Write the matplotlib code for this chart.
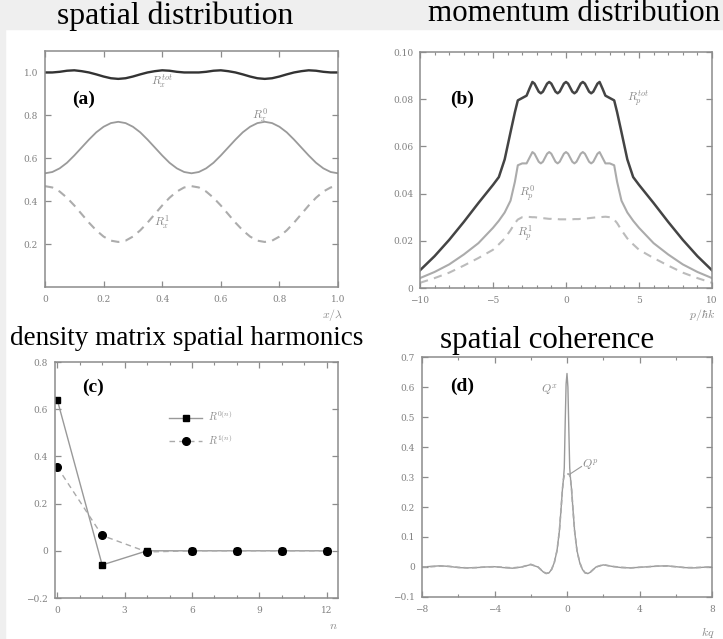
import matplotlib
matplotlib.use("Agg")
import matplotlib.pyplot as plt
from matplotlib.patches import Rectangle
from matplotlib.ticker import MultipleLocator

plt.rcParams["mathtext.fontset"] = "cm"
plt.rcParams["font.family"] = "DejaVu Serif"
plt.rcParams["axes.unicode_minus"] = True

# (a) spatial distribution over one period
x_a = [0.0, 0.025, 0.05, 0.075, 0.1, 0.125, 0.15, 0.175, 0.2, 0.225, 0.25,
       0.275, 0.3, 0.325, 0.35, 0.375, 0.4, 0.425, 0.45, 0.475, 0.5,
       0.525, 0.55, 0.575, 0.6, 0.625, 0.65, 0.675, 0.7, 0.725, 0.75,
       0.775, 0.8, 0.825, 0.85, 0.875, 0.9, 0.925, 0.95, 0.975, 1.0]
Rx_tot = [1.000, 1.000, 1.003, 1.008, 1.010, 1.006, 1.000, 0.991, 0.981, 0.973, 0.970,
          0.973, 0.981, 0.991, 1.000, 1.006, 1.010, 1.008, 1.003, 1.000, 1.000,
          1.000, 1.003, 1.008, 1.010, 1.006, 1.000, 0.991, 0.981, 0.973, 0.970,
          0.973, 0.981, 0.991, 1.000, 1.006, 1.010, 1.008, 1.003, 1.000, 1.000]
Rx_0 = [0.530, 0.536, 0.553, 0.579, 0.613, 0.650, 0.687, 0.721, 0.747, 0.764, 0.770,
        0.764, 0.747, 0.721, 0.687, 0.650, 0.613, 0.579, 0.553, 0.536, 0.530,
        0.536, 0.553, 0.579, 0.613, 0.650, 0.687, 0.721, 0.747, 0.764, 0.770,
        0.764, 0.747, 0.721, 0.687, 0.650, 0.613, 0.579, 0.553, 0.536, 0.530]
Rx_1 = [0.470, 0.464, 0.445, 0.416, 0.380, 0.340, 0.300, 0.264, 0.235, 0.216, 0.210,
        0.216, 0.235, 0.264, 0.300, 0.340, 0.380, 0.416, 0.445, 0.464, 0.470,
        0.464, 0.445, 0.416, 0.380, 0.340, 0.300, 0.264, 0.235, 0.216, 0.210,
        0.216, 0.235, 0.264, 0.300, 0.340, 0.380, 0.416, 0.445, 0.464, 0.470]

# (b) momentum distribution
p_b = [-10, -9, -8, -7, -6, -5, -4.6, -4.2, -3.8, -3.5, -3.3, -3.0, -2.7, -2.5,
       -2.3, -2.156, -2.013, -1.869, -1.725, -1.581, -1.438, -1.294, -1.15,
       -1.006, -0.863, -0.719, -0.575, -0.431, -0.288, -0.144, 0.0,
       0.144, 0.288, 0.431, 0.575, 0.719, 0.863, 1.006, 1.15,
       1.294, 1.438, 1.581, 1.725, 1.869, 2.013, 2.156, 2.3,
       2.5, 2.7, 3.0, 3.3, 3.5, 3.8, 4.2, 4.6, 5, 6, 7, 8, 9, 10]
Rp_tot = [0.0075, 0.0135, 0.0204, 0.0280, 0.0360, 0.0437, 0.0470, 0.0545, 0.0660,
          0.0745, 0.0795, 0.0805, 0.0815, 0.0845,
          0.0873, 0.0866, 0.0849, 0.0832, 0.0825, 0.0832, 0.0849, 0.0866,
          0.0873, 0.0866, 0.0849, 0.0832, 0.0825, 0.0832, 0.0849, 0.0866,
          0.0873, 0.0866, 0.0849, 0.0832, 0.0825, 0.0832, 0.0849, 0.0866,
          0.0873, 0.0866, 0.0849, 0.0832, 0.0825, 0.0832, 0.0849, 0.0866,
          0.0873,
          0.0845, 0.0815, 0.0805, 0.0795, 0.0745, 0.0660, 0.0545, 0.0470,
          0.0437, 0.0360, 0.0280, 0.0204, 0.0135, 0.0075]
Rp_0 = [0.0042, 0.0068, 0.0100, 0.0142, 0.0190, 0.0255, 0.0285, 0.0320, 0.0370,
        0.0450, 0.0520, 0.0528, 0.0528, 0.0552,
        0.0576, 0.0569, 0.0552, 0.0535, 0.0528, 0.0535, 0.0552, 0.0569,
        0.0576, 0.0569, 0.0552, 0.0535, 0.0528, 0.0535, 0.0552, 0.0569,
        0.0576, 0.0569, 0.0552, 0.0535, 0.0528, 0.0535, 0.0552, 0.0569,
        0.0576, 0.0569, 0.0552, 0.0535, 0.0528, 0.0535, 0.0552, 0.0569,
        0.0576,
        0.0552, 0.0528, 0.0528, 0.0520, 0.0450, 0.0370, 0.0320, 0.0285,
        0.0255, 0.0190, 0.0142, 0.0100, 0.0068, 0.0042]
Rp_1 = [0.0022, 0.0042, 0.0065, 0.0095, 0.0127, 0.0162, 0.0185, 0.0210, 0.0245,
        0.0275, 0.0290, 0.0300, 0.0302, 0.0301,
        0.0300, 0.0300, 0.0299, 0.0298, 0.0297, 0.0296, 0.0295, 0.0294,
        0.0293, 0.0293, 0.0292, 0.0292, 0.0292, 0.0291, 0.0291, 0.0291,
        0.0291, 0.0291, 0.0291, 0.0291, 0.0292, 0.0292, 0.0292, 0.0293,
        0.0293, 0.0294, 0.0295, 0.0296, 0.0297, 0.0298, 0.0299, 0.0300,
        0.0300,
        0.0301, 0.0302, 0.0300, 0.0290, 0.0275, 0.0245, 0.0210, 0.0185,
        0.0162, 0.0127, 0.0095, 0.0065, 0.0042, 0.0022]

# (c) density matrix harmonics
n_c = [0, 2, 4, 6, 8, 10, 12]
R0_n = [0.64, -0.06, 0.0, 0.0, 0.0, 0.0, 0.0]
R1_n = [0.355, 0.065, -0.005, 0.0, 0.0, 0.0, 0.0]

# (d) spatial coherence
kq = [-8, -7.5, -7, -6.5, -6, -5.5, -5, -4.5, -4, -3.5, -3, -2.5, -2, -1.6, -1.3,
      -1.15, -1.0, -0.85, -0.7, -0.55, -0.42, -0.32, -0.25, -0.2, -0.15, -0.1,
      -0.05, 0.0, 0.05, 0.1, 0.15, 0.2, 0.25, 0.32, 0.42, 0.55, 0.7, 0.85, 1.0,
      1.15, 1.3, 1.6, 2, 2.5, 3, 3.5, 4, 4.5, 5, 5.5, 6, 6.5, 7, 7.5, 8]
Qx = [0.0, 0.002, 0.004, 0.002, -0.002, -0.003, -0.002, 0.0, 0.001, -0.002, -0.004,
      0.0, 0.008, 0.0, -0.017, -0.022, -0.020, -0.008, 0.015, 0.055, 0.12, 0.20,
      0.26, 0.29, 0.33, 0.48, 0.61, 0.645, 0.60, 0.46, 0.33, 0.29, 0.26, 0.20,
      0.12, 0.055, 0.015, -0.008, -0.020, -0.022, -0.017, 0.0, 0.007, 0.002,
      -0.002, -0.003, -0.001, 0.001, 0.003, 0.004, 0.001, -0.002, -0.003, -0.001, 0.0]
Qp = [0.0, 0.001, 0.003, 0.002, -0.001, -0.003, -0.002, 0.0, 0.001, -0.001, -0.003,
      0.0, 0.009, 0.0, -0.016, -0.021, -0.019, -0.008, 0.015, 0.055, 0.12, 0.20,
      0.26, 0.29, 0.305, 0.31, 0.31, 0.31, 0.31, 0.31, 0.305, 0.29, 0.26, 0.20,
      0.12, 0.055, 0.015, -0.008, -0.019, -0.021, -0.016, 0.0, 0.008, 0.002,
      -0.001, -0.003, -0.001, 0.001, 0.003, 0.003, 0.001, -0.002, -0.002, -0.001, 0.0]

W, H = 723, 639
fig = plt.figure(figsize=(W / 100, H / 100), dpi=100)
fig.patch.set_facecolor("white")
# grey margins left over around the scanned figure
fig.patches.append(Rectangle((0, 1 - 29 / H), 1, 29 / H, transform=fig.transFigure,
                             color="#efefef", zorder=-1))
fig.patches.append(Rectangle((0, 0), 5 / W, 1, transform=fig.transFigure,
                             color="#efefef", zorder=-1))


def add_ax(left, top, right, bottom):
    return fig.add_axes([left / W, 1 - bottom / H, (right - left) / W, (bottom - top) / H])


def style(ax):
    for s in ax.spines.values():
        s.set_color("#8c8c8c")
        s.set_linewidth(1.1)
    ax.tick_params(which="both", direction="in", top=True, right=True,
                   colors="#8c8c8c", labelcolor="#808080", labelsize=6.5)
    ax.tick_params(axis="x", which="both", pad=6)
    ax.tick_params(axis="y", which="both", pad=5)
    ax.tick_params(which="major", length=4, width=0.9)
    ax.tick_params(which="minor", length=2.5, width=0.8)


lab = dict(color="#8a8a8a", fontsize=8.5)

# (a)
ax = add_ax(45, 51, 338, 287)
ax.plot(x_a, Rx_tot, color="#333333", lw=1.7)
ax.plot(x_a, Rx_0, color="#9a9a9a", lw=1.3)
ax.plot(x_a, Rx_1, color="#acacac", lw=1.5, ls=(0, (4, 3)))
ax.set_xlim(0, 1)
ax.set_ylim(0, 1.1)
ax.set_xticks([0, 0.2, 0.4, 0.6, 0.8, 1.0])
ax.set_xticklabels(["0", "0.2", "0.4", "0.6", "0.8", "1.0"])
ax.set_yticks([0.2, 0.4, 0.6, 0.8, 1.0])
ax.set_yticklabels(["0.2", "0.4", "0.6", "0.8", "1.0"])
style(ax)
ax.text(0.40, 0.955, r"$R_x^{tot}$", ha="center", va="center", **lab)
ax.text(0.735, 0.80, r"$R_x^{0}$", ha="center", va="center", **lab)
ax.text(0.40, 0.305, r"$R_x^{1}$", ha="center", va="center", **lab)
ax.text(0.98, -0.12, r"$x/\lambda$", transform=ax.transAxes, ha="center", va="center", **lab)

# (b)
ax = add_ax(420, 52, 712, 288)
ax.plot(p_b, Rp_tot, color="#444444", lw=1.8)
ax.plot(p_b, Rp_0, color="#ababab", lw=1.5)
ax.plot(p_b, Rp_1, color="#bbbbbb", lw=1.5, ls=(0, (4, 3)))
ax.set_xlim(-10, 10)
ax.set_ylim(0, 0.1)
ax.set_xticks([-10, -5, 0, 5, 10])
ax.xaxis.set_minor_locator(MultipleLocator(1))
ax.set_yticks([0, 0.02, 0.04, 0.06, 0.08, 0.10])
ax.set_yticklabels(["0", "0.02", "0.04", "0.06", "0.08", "0.10"])
style(ax)
ax.text(4.2, 0.080, r"$R_p^{tot}$", ha="left", va="center", **lab)
ax.text(-2.7, 0.040, r"$R_p^{0}$", ha="center", va="center", **lab)
ax.text(-2.8, 0.023, r"$R_p^{1}$", ha="center", va="center", **lab)
ax.text(0.965, -0.115, r"$p/\hbar k$", transform=ax.transAxes, ha="center", va="center", **lab)

# (c)
ax = add_ax(55, 362, 338, 598)
ax.plot(n_c, R0_n, color="#999999", lw=1.0, marker="s", ms=5,
        mfc="black", mec="black", label=r"$R^{0(n)}$")
ax.plot(n_c, R1_n, color="#aaaaaa", lw=1.0, ls=(0, (4, 3)), marker="o", ms=5.5,
        mfc="black", mec="black", label=r"$R^{1(n)}$")
ax.set_xlim(-0.1, 12.5)
ax.set_ylim(-0.2, 0.8)
ax.set_xticks([0, 3, 6, 9, 12])
ax.xaxis.set_minor_locator(MultipleLocator(1))
ax.set_yticks([-0.2, 0, 0.2, 0.4, 0.6, 0.8])
ax.set_yticklabels(["\u22120.2", "0", "0.2", "0.4", "0.6", "0.8"])
style(ax)
leg = ax.legend(loc="upper left", bbox_to_anchor=(0.37, 0.84), frameon=False,
                handlelength=3.2, fontsize=7.5, labelspacing=0.9, handletextpad=0.5)
for t in leg.get_texts():
    t.set_color("#8a8a8a")
ax.text(0.985, -0.115, r"$n$", transform=ax.transAxes, ha="center", va="center", **lab)

# (d)
ax = add_ax(422, 357, 712, 597)
ax.plot(kq, Qx, color="#9a9a9a", lw=1.0)
ax.plot(kq, Qp, color="#aaaaaa", lw=1.2, ls=(0, (3, 2)))
ax.set_xlim(-8, 8)
ax.set_ylim(-0.1, 0.7)
ax.set_xticks([-8, -4, 0, 4, 8])
ax.xaxis.set_minor_locator(MultipleLocator(2))
ax.set_yticks([-0.1, 0, 0.1, 0.2, 0.3, 0.4, 0.5, 0.6, 0.7])
ax.set_yticklabels(["\u22120.1", "0", "0.1", "0.2", "0.3", "0.4", "0.5", "0.6", "0.7"])
style(ax)
ax.text(-0.95, 0.59, r"$Q^x$", ha="center", va="center", **lab)
ax.plot([0.17, 0.8], [0.31, 0.335], color="#9a9a9a", lw=0.8)
ax.text(0.85, 0.338, r"$Q^p$", ha="left", va="center", **lab)
ax.text(0.985, -0.15, r"$kq$", transform=ax.transAxes, ha="center", va="center", **lab)

# panel titles and letters
title = dict(family="Liberation Serif", color="black", ha="center", va="baseline")
fig.text(175 / W, 1 - 24 / H, "spatial distribution", fontsize=22.8, **title)
fig.text(574 / W, 1 - 21 / H, "momentum distribution", fontsize=22.3, **title)
fig.text(187 / W, 1 - 345 / H, "density matrix spatial harmonics", fontsize=19.5, **title)
fig.text(547 / W, 1 - 348 / H, "spatial coherence", fontsize=22.3, **title)

letter = dict(family="Liberation Serif", fontweight="bold", fontsize=14,
              ha="left", va="center")
fig.text(72 / W, 1 - 99 / H, "(a)", **letter)
fig.text(450 / W, 1 - 99 / H, "(b)", **letter)
fig.text(82 / W, 1 - 387 / H, "(c)", **letter)
fig.text(450 / W, 1 - 386 / H, "(d)", **letter)

fig.savefig("out.png", dpi=100)
